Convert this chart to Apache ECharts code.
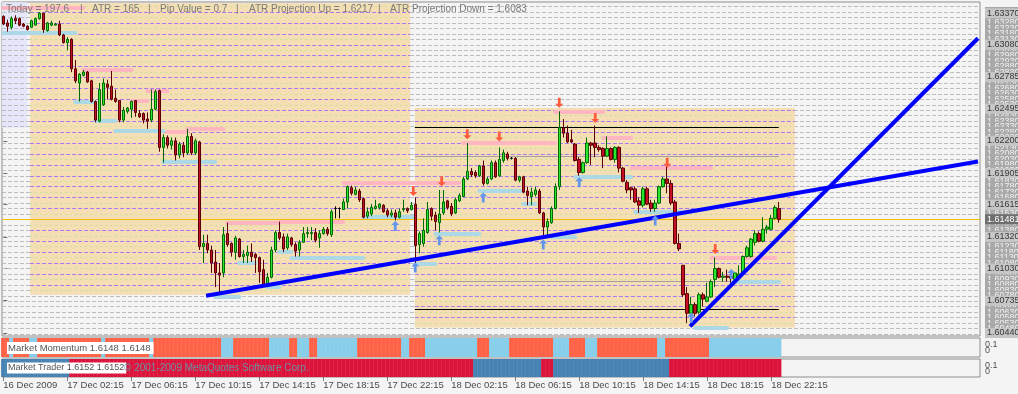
<!DOCTYPE html>
<html>
<head>
<meta charset="utf-8">
<script src="https://cdn.jsdelivr.net/npm/echarts@6.0.0/dist/echarts.min.js"></script>
<style>
html,body{margin:0;padding:0;background:#F4F4F4;overflow:hidden;}
#chart{width:1018px;height:394px;}
</style>
</head>
<body>
<div id="chart"></div>
<script>
// ================= DATA =================
// 15-minute GBPUSD bars, bar 0 = 16 Dec 2009 22:15. [open, close, low, high]
const candles = [
[1.6334,1.6327,1.6326,1.6335],[1.6328,1.6325,1.6320,1.6331],[1.6324,1.6332,1.6322,1.6334],[1.6332,1.6330,1.6327,1.6335],
[1.6332,1.6326,1.6325,1.6333],[1.6327,1.6325,1.6324,1.6328],[1.6325,1.6322,1.6321,1.6326],[1.6324,1.6330,1.6324,1.6331],
[1.6326,1.6332,1.6326,1.6333],[1.6332,1.6337,1.6331,1.6338],[1.6337,1.6322,1.6319,1.6337],[1.6321,1.6328,1.6320,1.6329],
[1.6326,1.6328,1.6325,1.6330],[1.6326,1.6327,1.6326,1.6328],[1.6327,1.6317,1.6316,1.6330],[1.6317,1.6310,1.6309,1.6318],
[1.6310,1.6313,1.6303,1.6315],[1.6313,1.6286,1.6283,1.6314],[1.6286,1.6275,1.6273,1.6294],[1.6273,1.6281,1.6256,1.6282],
[1.6280,1.6283,1.6279,1.6285],[1.6283,1.6274,1.6273,1.6284],[1.6275,1.6256,1.6255,1.6276],[1.6256,1.6239,1.6237,1.6257],
[1.6238,1.6267,1.6237,1.6273],[1.6253,1.6273,1.6252,1.6277],[1.6272,1.6269,1.6258,1.6276],[1.6270,1.6258,1.6257,1.6284],
[1.6259,1.6256,1.6255,1.6267],[1.6257,1.6239,1.6237,1.6257],[1.6239,1.6248,1.6237,1.6251],[1.6247,1.6250,1.6245,1.6251],
[1.6249,1.6256,1.6241,1.6257],[1.6257,1.6246,1.6242,1.6257],[1.6245,1.6242,1.6241,1.6248],[1.6245,1.6239,1.6236,1.6246],
[1.6240,1.6238,1.6231,1.6246],[1.6239,1.6249,1.6237,1.6267],[1.6249,1.6265,1.6248,1.6267],[1.6266,1.6214,1.6210,1.6267],
[1.6214,1.6223,1.6200,1.6226],[1.6223,1.6216,1.6213,1.6225],[1.6216,1.6220,1.6212,1.6223],[1.6220,1.6207,1.6202,1.6223],
[1.6207,1.6217,1.6204,1.6219],[1.6216,1.6209,1.6205,1.6219],[1.6209,1.6224,1.6207,1.6231],[1.6224,1.6209,1.6207,1.6227],
[1.6209,1.6220,1.6207,1.6222],[1.6219,1.6123,1.6120,1.6220],[1.6123,1.6126,1.6108,1.6134],[1.6126,1.6120,1.6117,1.6134],
[1.6120,1.6108,1.6099,1.6124],[1.6109,1.6099,1.6086,1.6120],[1.6099,1.6097,1.6079,1.6108],[1.6099,1.6134,1.6095,1.6141],
[1.6135,1.6125,1.6123,1.6145],[1.6126,1.6118,1.6114,1.6127],[1.6118,1.6131,1.6111,1.6133],[1.6130,1.6114,1.6113,1.6131],
[1.6114,1.6116,1.6108,1.6120],[1.6115,1.6118,1.6108,1.6124],[1.6118,1.6114,1.6109,1.6126],[1.6116,1.6113,1.6099,1.6117],
[1.6113,1.6100,1.6090,1.6114],[1.6102,1.6088,1.6086,1.6111],[1.6088,1.6095,1.6086,1.6099],[1.6095,1.6120,1.6094,1.6123],
[1.6120,1.6136,1.6118,1.6138],[1.6136,1.6131,1.6129,1.6146],[1.6132,1.6121,1.6118,1.6135],[1.6122,1.6132,1.6120,1.6135],
[1.6131,1.6125,1.6123,1.6132],[1.6125,1.6119,1.6114,1.6127],[1.6120,1.6127,1.6114,1.6129],[1.6127,1.6135,1.6127,1.6141],
[1.6135,1.6136,1.6131,1.6141],[1.6135,1.6136,1.6129,1.6141],[1.6136,1.6129,1.6127,1.6140],[1.6131,1.6135,1.6122,1.6138],
[1.6135,1.6139,1.6134,1.6141],[1.6139,1.6135,1.6133,1.6141],[1.6134,1.6155,1.6132,1.6157],[1.6158,1.6158,1.6149,1.6160],
[1.6158,1.6158,1.6149,1.6159],[1.6157,1.6164,1.6157,1.6167],[1.6164,1.6178,1.6158,1.6179],[1.6177,1.6172,1.6170,1.6179],
[1.6171,1.6175,1.6170,1.6178],[1.6174,1.6166,1.6164,1.6176],[1.6167,1.6150,1.6149,1.6168],[1.6151,1.6155,1.6149,1.6159],
[1.6153,1.6159,1.6151,1.6162],[1.6158,1.6160,1.6157,1.6166],[1.6159,1.6162,1.6157,1.6163],[1.6161,1.6155,1.6154,1.6162],
[1.6156,1.6152,1.6150,1.6158],[1.6152,1.6154,1.6150,1.6157],[1.6154,1.6150,1.6147,1.6157],[1.6150,1.6155,1.6149,1.6158],
[1.6157,1.6158,1.6155,1.6166],[1.6158,1.6156,1.6154,1.6159],[1.6157,1.6161,1.6156,1.6164],[1.6162,1.6124,1.6108,1.6168],
[1.6125,1.6135,1.6117,1.6137],[1.6126,1.6138,1.6123,1.6149],[1.6136,1.6157,1.6135,1.6164],[1.6158,1.6151,1.6147,1.6159],
[1.6152,1.6146,1.6138,1.6155],[1.6145,1.6153,1.6136,1.6175],[1.6154,1.6164,1.6152,1.6175],[1.6165,1.6159,1.6157,1.6166],
[1.6160,1.6153,1.6151,1.6163],[1.6154,1.6166,1.6153,1.6168],[1.6165,1.6170,1.6164,1.6172],[1.6169,1.6185,1.6169,1.6187],
[1.6185,1.6192,1.6184,1.6218],[1.6192,1.6189,1.6187,1.6195],[1.6191,1.6188,1.6186,1.6193],[1.6188,1.6197,1.6187,1.6198],
[1.6197,1.6181,1.6179,1.6202],[1.6181,1.6185,1.6180,1.6187],[1.6185,1.6200,1.6184,1.6202],[1.6200,1.6187,1.6186,1.6202],
[1.6188,1.6203,1.6187,1.6214],[1.6202,1.6209,1.6200,1.6212],[1.6208,1.6204,1.6202,1.6210],[1.6204,1.6204,1.6203,1.6205],
[1.6204,1.6184,1.6183,1.6205],[1.6184,1.6187,1.6182,1.6188],[1.6187,1.6173,1.6172,1.6188],[1.6174,1.6170,1.6161,1.6178],
[1.6169,1.6173,1.6161,1.6177],[1.6171,1.6175,1.6169,1.6178],[1.6174,1.6154,1.6153,1.6176],[1.6154,1.6141,1.6132,1.6155],
[1.6141,1.6146,1.6132,1.6149],[1.6145,1.6158,1.6144,1.6160],[1.6158,1.6178,1.6157,1.6181],[1.6178,1.6232,1.6175,1.6247],
[1.6232,1.6227,1.6223,1.6240],[1.6227,1.6219,1.6218,1.6234],[1.6221,1.6219,1.6218,1.6230],[1.6217,1.6202,1.6201,1.6218],
[1.6203,1.6191,1.6188,1.6205],[1.6191,1.6200,1.6190,1.6201],[1.6200,1.6218,1.6199,1.6223],[1.6218,1.6216,1.6198,1.6219],
[1.6218,1.6214,1.6205,1.6234],[1.6214,1.6212,1.6210,1.6216],[1.6213,1.6206,1.6195,1.6214],[1.6206,1.6213,1.6205,1.6224],
[1.6213,1.6203,1.6202,1.6214],[1.6203,1.6214,1.6200,1.6215],[1.6214,1.6195,1.6191,1.6215],[1.6195,1.6183,1.6182,1.6196],
[1.6182,1.6175,1.6172,1.6184],[1.6177,1.6175,1.6166,1.6178],[1.6176,1.6164,1.6163,1.6178],[1.6165,1.6161,1.6154,1.6168],
[1.6161,1.6176,1.6159,1.6178],[1.6176,1.6162,1.6161,1.6178],[1.6163,1.6158,1.6155,1.6166],[1.6158,1.6163,1.6155,1.6166],
[1.6163,1.6178,1.6162,1.6179],[1.6178,1.6185,1.6177,1.6187],[1.6185,1.6181,1.6172,1.6198],[1.6181,1.6163,1.6161,1.6184],
[1.6164,1.6126,1.6125,1.6166],[1.6126,1.6121,1.6119,1.6135],[1.6106,1.6079,1.6077,1.6106],[1.6080,1.6062,1.6053,1.6086],
[1.6062,1.6070,1.6053,1.6077],[1.6070,1.6062,1.6059,1.6072],[1.6063,1.6079,1.6061,1.6081],[1.6079,1.6075,1.6068,1.6081],
[1.6073,1.6077,1.6072,1.6090],[1.6077,1.6091,1.6076,1.6093],[1.6093,1.6103,1.6086,1.6113],[1.6103,1.6095,1.6094,1.6104],
[1.6095,1.6096,1.6091,1.6100],[1.6096,1.6095,1.6091,1.6102],[1.6096,1.6094,1.6090,1.6100],[1.6093,1.6099,1.6092,1.6100],
[1.6095,1.6098,1.6094,1.6106],[1.6098,1.6114,1.6097,1.6115],[1.6114,1.6122,1.6113,1.6124],[1.6114,1.6130,1.6113,1.6131],
[1.6127,1.6135,1.6124,1.6138],[1.6135,1.6128,1.6127,1.6137],[1.6128,1.6139,1.6127,1.6150],[1.6139,1.6141,1.6135,1.6143],
[1.6139,1.6149,1.6138,1.6152],[1.6149,1.6159,1.6148,1.6161],[1.6158,1.6148,1.6145,1.6164]
];

// time axis ticks (bar index) and labels
const timeTickBars = [0,16,32,48,64,80,96,112,128,144,160,176,192];
const timeTickLabels = ['16 Dec 2009','17 Dec 02:15','17 Dec 06:15','17 Dec 10:15','17 Dec 14:15','17 Dec 18:15',
  '17 Dec 22:15','18 Dec 02:15','18 Dec 06:15','18 Dec 10:15','18 Dec 14:15','18 Dec 18:15','18 Dec 22:15'];

// price scale labels
const priceLabels = [1.60440,1.60735,1.61030,1.61320,1.61615,1.61905,1.62200,1.62495,1.62785,1.63080,1.63370];
const currentPrice = 1.61481;

// horizontal level lines (5 pip ladder)
const levelLines = [1.6343,1.6338,1.6333,1.6328,1.6323,1.6318,1.6313,1.6308,1.6303,1.6298,1.6293,1.6288,1.6283,
  1.6278,1.6273,1.6268,1.6263,1.6258,1.6253,1.6248,1.6243,1.6238,1.6233,1.6228,1.6223,1.6218,1.6213,1.6208,1.6203,
  1.6198,1.6193,1.6188,1.6183,1.6178,1.6173,1.6168,1.6163,1.6158,1.6153,1.6148,1.6143,1.6138,1.6133,1.6128,1.6123,
  1.6118,1.6113,1.6108,1.6103,1.6098,1.6093,1.6088,1.6083,1.6078,1.6073,1.6068,1.6063,1.6058,1.6053,1.6048,1.6043];

// session boxes [fromBar, toBar, topPrice, bottomPrice]
const asiaBox = [[-0.33, 5.9, 1.6347, 1.6232]];
const dayBoxes = [[6.7, 101.7, 1.6346, 1.6079], [102.9, 197.9, 1.6250, 1.6049]];
// day range lines inside second box [fromBar, toBar, price]
const rangeEdgeLines = [[102.9, 193.9, 1.6232], [102.9, 193.9, 1.6066]];
const rangeMidLines  = [[102.9, 193.9, 1.6206], [102.9, 193.9, 1.6091]];

// resistance / support segments [fromBar, toBar, price]
const resistance = [[0,20,1.6342],[20,32,1.6285],[32,36,1.6257],[36,41,1.6266],[41,46,1.6228],[46,55,1.6231],
  [56,69,1.6145],[69,85,1.6146],[85,114,1.6182],[115,138,1.6218],[138,150,1.6247],[150,157,1.6223],[157,177,1.6195],[177,193,1.6113]];
const support = [[0,18,1.6319],[18,23,1.6256],[23,28,1.6238],[28,40,1.6229],[40,53,1.6201],[53,59,1.6077],[59,63,1.6108],
  [66,69,1.6086],[69,72,1.6118],[72,90,1.6113],[90,103,1.6150],[103,108,1.6107],[108,119,1.6135],[119,130,1.6174],
  [130,133,1.6162],[137,143,1.6132],[143,157,1.6187],[158,171,1.6155],[173,181,1.6049],[182,194,1.6091]];

// trend lines [[bar, price], [bar, price]]
const trendSupport = [[50.7, 1.6078], [243.7, 1.6201]];
const trendSteep = [[171.7, 1.6050], [243.7, 1.6314]];

// fractal arrows [bar, price]
const downArrows = [[102.5,1.6174],[109.6,1.6183],[116,1.6226],[124,1.6224],[139,1.6255],[148,1.6241],[166,1.6200],[178,1.6121]];
const upArrows = [[98,1.6142],[103,1.6104],[109,1.6129],[120,1.6168],[135,1.6125],[144,1.6182],[163,1.6147],[172,1.6058],[182,1.6098]];

// indicator runs [fromBar, toBar, state]  (1 = up colour, 0 = down colour)
const momentumRuns = [[0,1,0],[2,2,1],[3,6,0],[7,8,1],[9,24,0],[25,25,1],[26,36,0],[37,37,1],[38,54,0],[55,57,1],
  [58,66,0],[67,71,1],[72,73,0],[74,76,1],[77,78,0],[79,88,1],[89,99,0],[100,101,1],[102,105,0],[106,118,1],
  [119,121,0],[122,126,1],[127,137,0],[138,141,1],[142,145,0],[146,148,1],[149,163,0],[164,165,1],[166,176,0],[177,194,1]];
const traderRuns = [[0,16,1],[17,117,0],[118,134,1],[135,137,0],[138,166,1],[167,194,0]];

// texts
const headerTexts = ['Today = 197.6','|','ATR = 165','|','Pip Value = 0.7','|','ATR Projection Up = 1.6217','|','ATR Projection Down = 1.6083'];
const momentumLabel = 'Market Momentum 1.6148 1.6148';
const traderLabel = 'Market Trader 1.6152 1.6152';
const copyrightText = '© 2001-2009 MetaQuotes Software Corp.';

// ================= LAYOUT / STYLE =================
const FONT = 'Liberation Sans, Arial, sans-serif';
const X_MIN = -0.33, X_MAX = 244.2;
const headerX = [6, 80, 92, 148, 160, 236, 249, 378, 390];
const G = {left: 2, width: 978};
const gridBase = {left: G.left, width: G.width, outerBoundsMode: 'none', containLabel: false};
const grids = [
  Object.assign({top: 2, height: 334, show: true, backgroundColor: '#F4F4F4', borderColor: '#8E8E8E', borderWidth: 1}, gridBase),
  Object.assign({top: 338, height: 19, show: true, backgroundColor: '#F4F4F4', borderColor: '#8E8E8E', borderWidth: 1}, gridBase),
  Object.assign({top: 359, height: 18, show: true, backgroundColor: '#F4F4F4', borderColor: '#8E8E8E', borderWidth: 1}, gridBase),
  Object.assign({top: 2, height: 334, show: false}, gridBase),
  Object.assign({top: 2, height: 334, show: false}, gridBase)
];
const Y_MIN = 1.60412, Y_MAX = 1.63472;

function hiddenX(g) {
  return {type: 'value', gridIndex: g, min: X_MIN, max: X_MAX, show: false};
}
const xAxes = [hiddenX(0), hiddenX(1), {
  type: 'value', gridIndex: 2, min: X_MIN, max: X_MAX, position: 'bottom',
  axisLine: {show: false}, splitLine: {show: false},
  axisTick: {show: true, customValues: timeTickBars, length: 4, lineStyle: {color: '#7A7A7A'}},
  axisLabel: {show: true, customValues: timeTickBars, align: 'left', margin: 3, color: '#4A4A4A', fontSize: 9.5, fontFamily: FONT,
    formatter: v => timeTickLabels[timeTickBars.indexOf(v)] || ''}
}, hiddenX(3), hiddenX(4)];

const fmt5 = v => v.toFixed(5);
const yAxes = [
  {type: 'value', gridIndex: 0, min: Y_MIN, max: Y_MAX, position: 'right', axisLine: {show: false}, splitLine: {show: false},
   axisTick: {show: false},
   axisLabel: {customValues: levelLines, formatter: fmt5, color: '#F2F2F2', backgroundColor: '#A9A9A9', fontSize: 9, fontFamily: FONT, margin: 5, padding: [1, 6, 0, 2]}},
  {type: 'value', gridIndex: 1, min: 0, max: 1, show: false},
  {type: 'value', gridIndex: 2, min: 0, max: 1, show: false},
  {type: 'value', gridIndex: 3, min: Y_MIN, max: Y_MAX, position: 'right', axisLine: {show: false}, splitLine: {show: false},
   axisTick: {show: true, customValues: priceLabels, length: 4, inside: false, lineStyle: {color: '#6E6E6E'}},
   axisLabel: {customValues: priceLabels, formatter: fmt5, color: '#3A3A3A', backgroundColor: '#C6C6C6', fontSize: 9, fontFamily: FONT, margin: 5, padding: [1, 6, 0, 2]}},
  {type: 'value', gridIndex: 4, min: Y_MIN, max: Y_MAX, position: 'right', axisLine: {show: false}, splitLine: {show: false},
   axisTick: {show: false},
   axisLabel: {customValues: [currentPrice], formatter: fmt5, color: '#FFFFFF', backgroundColor: '#6E6E6E', fontSize: 9, fontFamily: FONT, margin: 5, padding: [1, 6, 0, 2]}}
];

function boxRenderer(fill) {
  return function (params, api) {
    const a = api.coord([api.value(0), api.value(2)]);
    const b = api.coord([api.value(1), api.value(3)]);
    return {type: 'rect', shape: {x: a[0], y: a[1], width: b[0] - a[0], height: b[1] - a[1]}, style: {fill: fill}};
  };
}
function segs(list) {
  return list.map(s => ({coords: [[s[0], s[2]], [s[1], s[2]]]}));
}
function linesSeries(data, z, lineStyle) {
  return {type: 'lines', coordinateSystem: 'cartesian2d', xAxisIndex: 0, yAxisIndex: 0, z: z, silent: true,
    polyline: false, data: data, lineStyle: lineStyle, effect: {show: false}};
}

// level lines split by colour inside day boxes
const purpleSegs = [], greenSegs = [];
dayBoxes.forEach(b => {
  levelLines.forEach(v => {
    if (v <= b[2] && v >= b[3]) {
      const seg = {coords: [[b[0], v], [b[1], v]]};
      (Math.round(v * 10000) % 10 === 8 ? purpleSegs : greenSegs).push(seg);
    }
  });
});

function runsToBars(runs, upColor, downColor) {
  const out = [];
  runs.forEach(r => { for (let i = r[0]; i <= r[1]; i++) out.push({value: [i, 1], itemStyle: {color: r[2] ? upColor : downColor}}); });
  return out;
}

const arrowPath = 'path://M3.5,0 L7,4 L4.7,4 L4.7,10 L2.3,10 L2.3,4 L0,4 Z';

const series = [
  {type: 'custom', xAxisIndex: 0, yAxisIndex: 0, z: 1, silent: true, clip: true, data: asiaBox, encode: {x: [0, 1], y: [2, 3]}, renderItem: boxRenderer('#E6E6FA')},
  linesSeries(levelLines.map(v => ({coords: [[X_MIN, v], [X_MAX, v]]})), 2, {color: '#BDBDBD', width: 1, type: [4, 2], opacity: 1}),
  {type: 'custom', xAxisIndex: 0, yAxisIndex: 0, z: 3, silent: true, clip: true, data: dayBoxes, encode: {x: [0, 1], y: [2, 3]}, renderItem: boxRenderer('#F5DEB3')},
  linesSeries(purpleSegs, 4, {color: '#A77BEF', width: 1, type: [4, 2], opacity: 1}),
  linesSeries(greenSegs, 4, {color: '#BFE39B', width: 1, type: [2, 3], opacity: 1}),
  linesSeries(segs(rangeMidLines), 4, {color: '#A0A0A0', width: 1, type: 'solid', opacity: 1}),
  linesSeries(segs(rangeEdgeLines), 4, {color: '#000000', width: 1, type: 'solid', opacity: 1}),
  linesSeries([{coords: [[X_MIN, currentPrice], [X_MAX, currentPrice]]}], 4, {color: '#F0C000', width: 1, type: 'solid', opacity: 1}),
  linesSeries(segs(resistance), 5, {color: '#FFB6C1', width: 4, type: 'solid', opacity: 1, cap: 'round'}),
  linesSeries(segs(support), 5, {color: '#ADD8E6', width: 4, type: 'solid', opacity: 1, cap: 'round'}),
  {type: 'candlestick', xAxisIndex: 0, yAxisIndex: 0, z: 6, silent: true, barWidth: 3,
   data: candles.map((c, i) => [i, c[0], c[1], c[2], c[3]]), encode: {x: 0, y: [1, 2, 3, 4]},
   itemStyle: {color: '#2EE52E', color0: '#C41024', borderColor: '#006A00', borderColor0: '#5A0000', borderColorDoji: '#000000', borderWidth: 1}},
  linesSeries([{coords: trendSupport}, {coords: trendSteep}], 7, {color: '#0000FF', width: 4, type: 'solid', opacity: 1}),
  {type: 'scatter', xAxisIndex: 0, yAxisIndex: 0, z: 8, silent: true, symbol: arrowPath, symbolSize: [8, 10], symbolRotate: 180,
   data: downArrows, itemStyle: {color: '#FF5A3C', opacity: 1}},
  {type: 'scatter', xAxisIndex: 0, yAxisIndex: 0, z: 8, silent: true, symbol: arrowPath, symbolSize: [8, 10],
   data: upArrows, itemStyle: {color: '#6495ED', opacity: 1}},
  {type: 'bar', xAxisIndex: 1, yAxisIndex: 1, barWidth: 4.3, silent: true, data: runsToBars(momentumRuns, '#87CEEB', '#FF6347')},
  {type: 'bar', xAxisIndex: 2, yAxisIndex: 2, barWidth: 4.3, silent: true, data: runsToBars(traderRuns, '#4682B4', '#DC143C')}
];

const graphics = [];
headerTexts.forEach((t, k) => graphics.push({type: 'text', x: headerX[k], y: 9, z: 100,
  style: {text: t, fill: '#7A7A7A', font: '10px ' + FONT, verticalAlign: 'middle'}}));
graphics.push({type: 'text', x: 7, y: 348, z: 100,
  style: {text: momentumLabel, fill: '#555555', font: '9.5px ' + FONT, verticalAlign: 'middle', backgroundColor: '#FFFFFF', padding: [1, 3, 1, 1]}});
graphics.push({type: 'text', x: 7, y: 368, z: 100,
  style: {text: traderLabel, fill: '#555555', font: '9px ' + FONT, verticalAlign: 'middle', backgroundColor: '#FFFFFF', padding: [1, 2, 1, 1]}});
graphics.push({type: 'text', x: 124, y: 368, z: 101,
  style: {text: copyrightText, fill: '#6F8FA0', font: '10px ' + FONT, verticalAlign: 'middle'}});
[[345, '0.1'], [351, '0'], [366, '0.1'], [372, '0']].forEach(p => graphics.push({type: 'text', x: 985, y: p[0], z: 100,
  style: {text: p[1], fill: '#505050', font: '9px ' + FONT, verticalAlign: 'middle'}}));

const chart = echarts.init(document.getElementById('chart'), null, {renderer: 'canvas'});
chart.setOption({
  animation: false,
  backgroundColor: '#F4F4F4',
  textStyle: {fontFamily: FONT},
  grid: grids,
  xAxis: xAxes,
  yAxis: yAxes,
  series: series,
  graphic: {elements: graphics}
});
</script>
</body>
</html>
